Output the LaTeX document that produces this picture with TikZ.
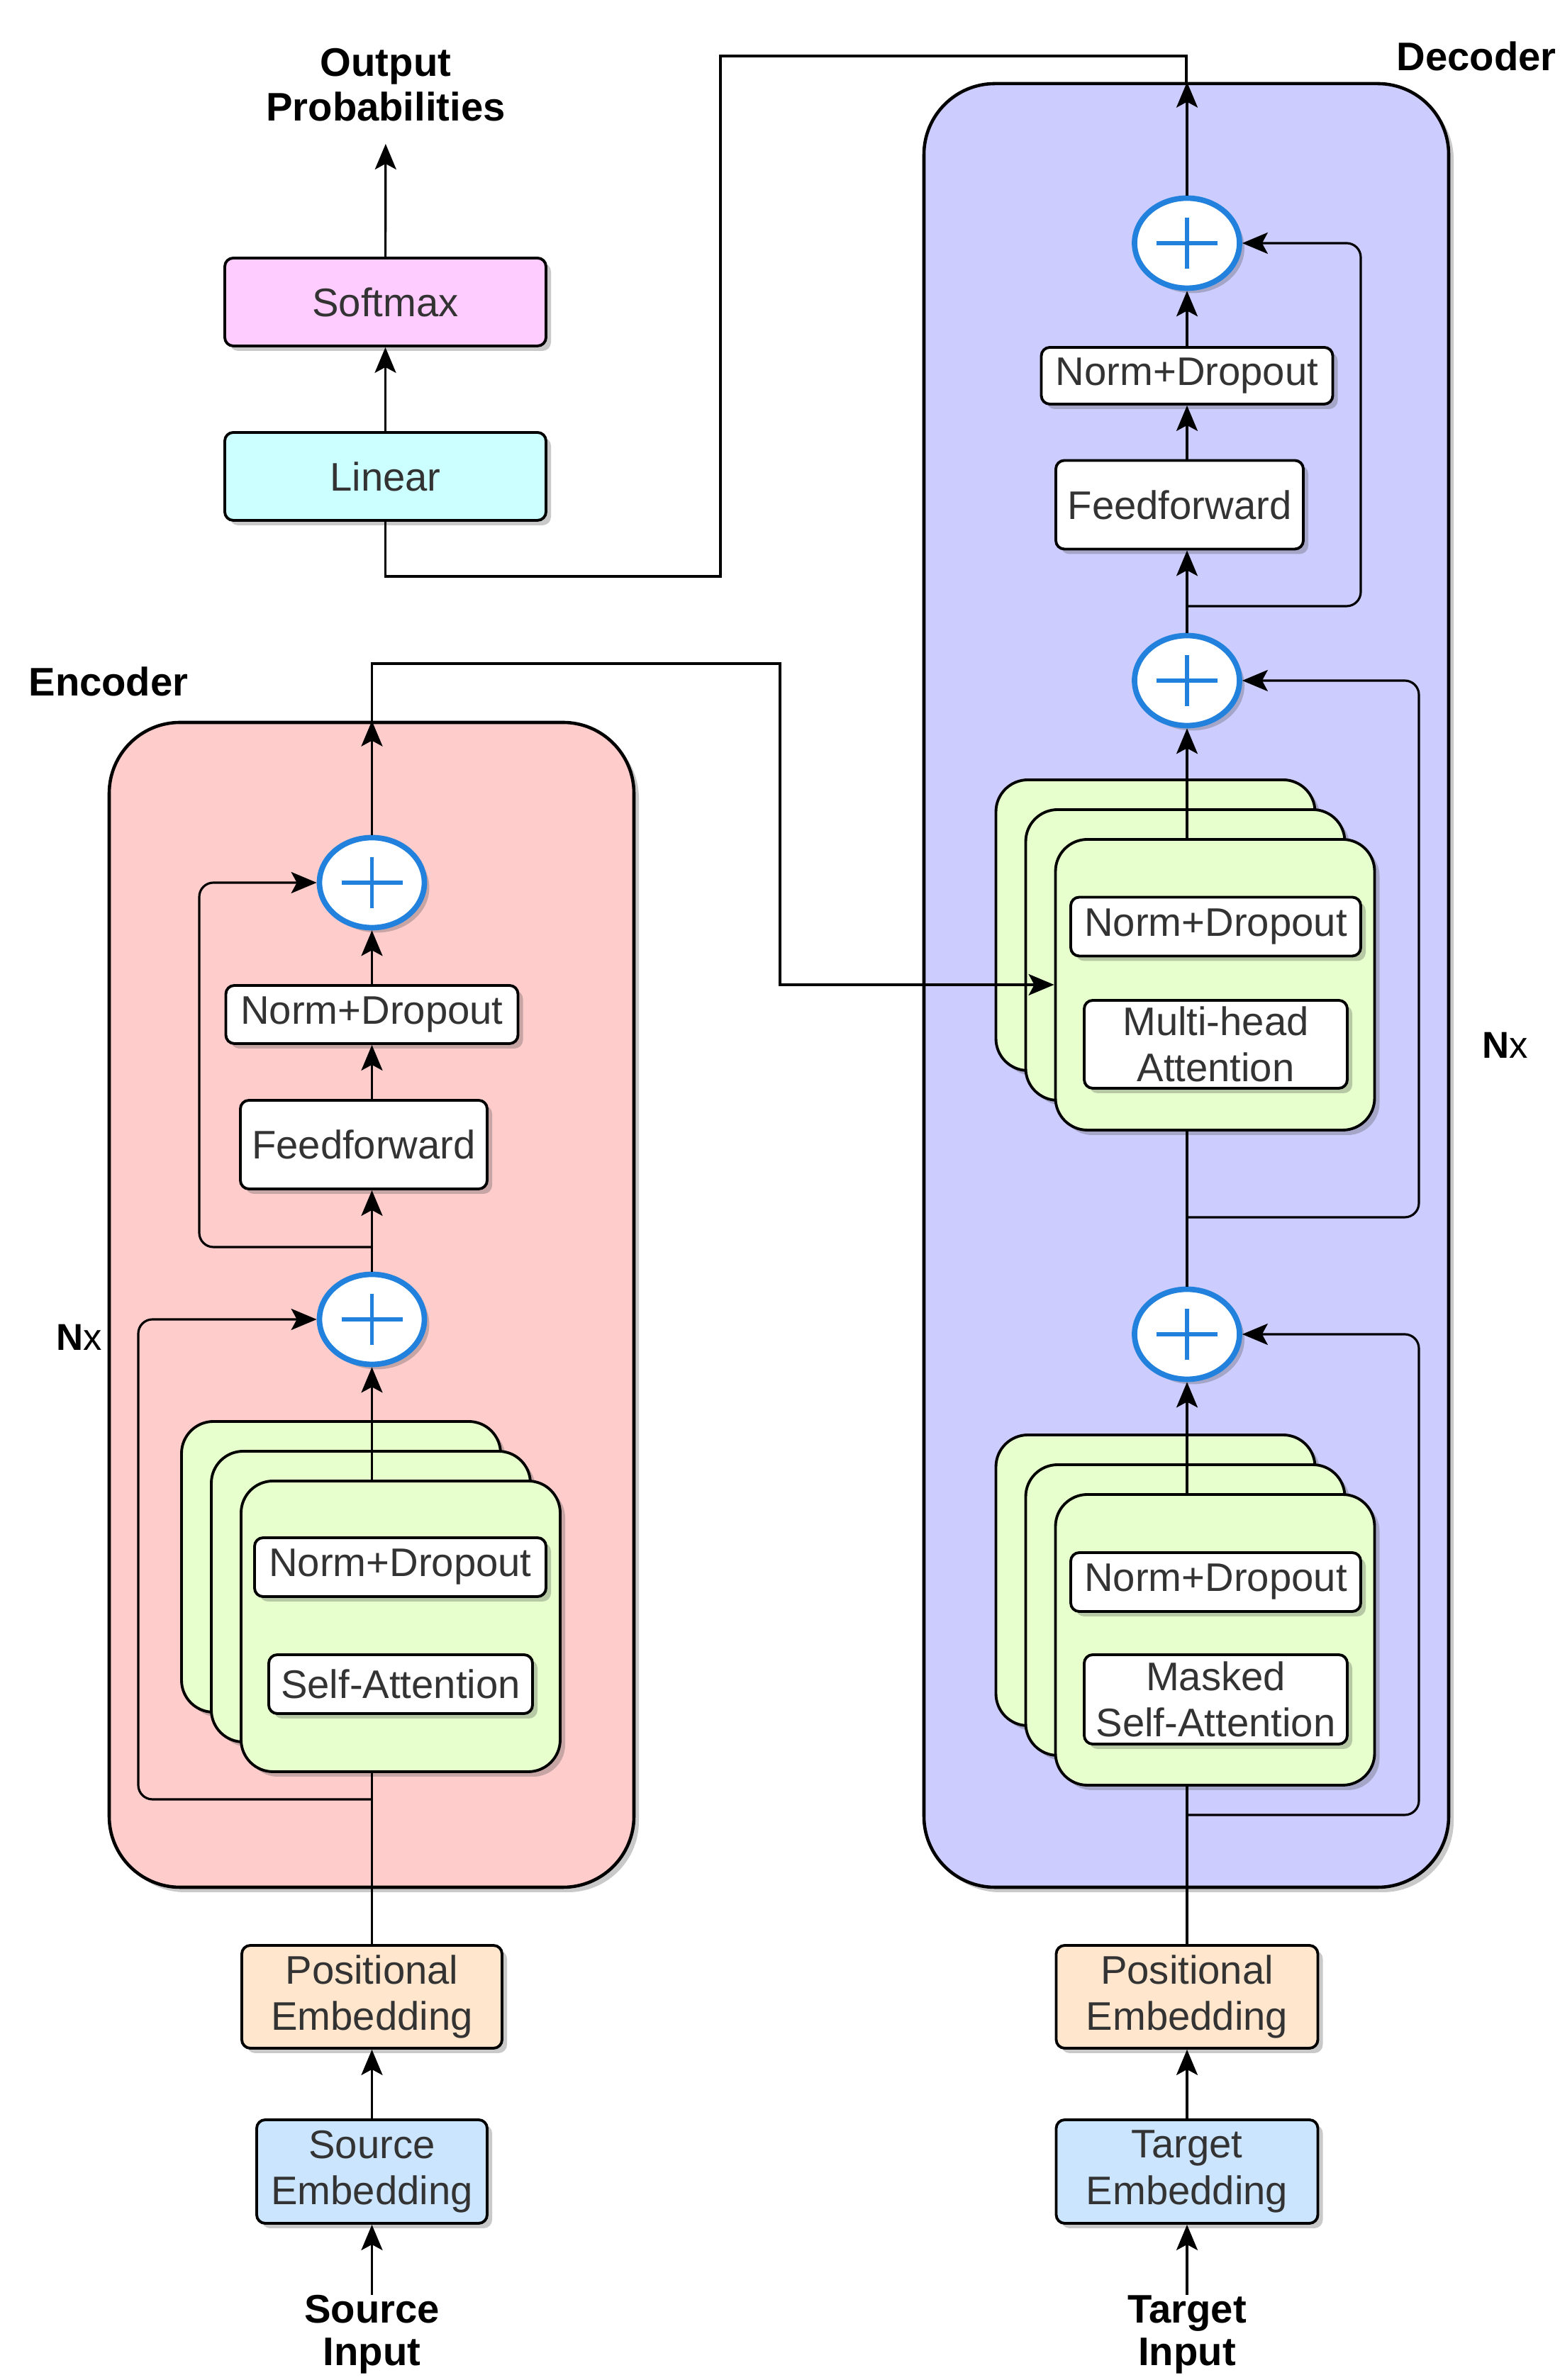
\documentclass[tikz,border=0pt]{standalone}
\usepackage{fontspec}
\setmainfont{Liberation Sans}
\usepackage{tikz}
\usetikzlibrary{arrows.meta,shapes.geometric,shadows,calc}

\definecolor{encfill}{HTML}{FFCCCC}
\definecolor{decfill}{HTML}{CCCCFF}
\definecolor{smfill}{HTML}{FFCCFF}
\definecolor{linfill}{HTML}{CCFFFF}
\definecolor{posfill}{HTML}{FFE6CC}
\definecolor{embfill}{HTML}{CCE5FF}
\definecolor{cardfill}{HTML}{E6FFCC}
\definecolor{plusblue}{HTML}{2281DC}

\tikzset{
  shade/.style={drop shadow={shadow xshift=0.07cm, shadow yshift=-0.07cm, opacity=0.3, fill=black!70}},
  box/.style={draw, line width=1.1pt, rounded corners=0.12cm, inner sep=0pt, align=center,
    text=black!80, font=\fontsize{16}{18.5}\selectfont, shade},
  inbox/.style={box, fill=white},
  card/.style={draw, line width=1.1pt, rounded corners=0.45cm, fill=cardfill,
    minimum width=4.5cm, minimum height=4.1cm, shade},
  frame/.style={draw, line width=1.3pt, rounded corners=1cm, shade},
  plus/.style={ellipse, draw=plusblue, line width=2.2pt, fill=white, inner sep=0pt,
    minimum width=1.48cm, minimum height=1.27cm, shade,
    path picture={
      \draw[plusblue, line width=1.6pt]
        ([xshift=-0.43cm]path picture bounding box.center) -- ([xshift=0.43cm]path picture bounding box.center)
        ([yshift=-0.36cm]path picture bounding box.center) -- ([yshift=0.36cm]path picture bounding box.center);
    }},
  title/.style={font=\fontsize{16}{18}\selectfont\bfseries, align=center, inner sep=0pt},
  nx/.style={font=\fontsize{15}{18}\selectfont, inner sep=0pt},
  conn/.style={line width=0.9pt},
  arr/.style={conn, -{Stealth[length=0.36cm, width=0.3cm, inset=0.08cm]}},
}

\begin{document}
\begin{tikzpicture}
  \useasboundingbox (0,0) rectangle (22,33.57);

  % Frames
  \node[frame, fill=decfill, minimum width=7.40cm, minimum height=25.44cm] (decbox) at (16.73,19.67) {};
  \node[frame, fill=encfill, minimum width=7.40cm, minimum height=16.43cm] (encbox) at (5.24,15.165) {};
  \node[title] (dectitle) at (20.82,32.78) {Decoder};
  \node[title] (enctitle) at (1.53,23.96) {Encoder};

  % Output head
  \node[title, anchor=south, inner ysep=0.31cm] (outprob) at (5.44,31.54) {Output\\Probabilities};
  \node[box, fill=smfill, minimum width=4.53cm, minimum height=1.24cm] (softmax) at (5.435,29.31) {Softmax};
  \node[box, fill=linfill, minimum width=4.53cm, minimum height=1.24cm] (linear) at (5.435,26.85) {Linear};

  % Encoder: attention stack
  \node[card] (sa3) at (4.81,11.47) {};
  \node[card] (sa2) at (5.23,11.05) {};
  \node[card] (sa1) at (5.65,10.63) {};
  \node[inbox, minimum width=4.11cm, minimum height=0.83cm] (sand) at (5.645,11.465) {Norm+Dropout};
  \node[inbox, minimum width=3.72cm, minimum height=0.83cm] (saatt) at (5.65,9.815) {Self-Attention};

  % Encoder: feedforward part
  \node[plus] (eplus1) at (5.245,14.96) {};
  \node[inbox, minimum width=3.48cm, minimum height=1.25cm] (effwd) at (5.13,17.425) {Feedforward};
  \node[inbox, minimum width=4.12cm, minimum height=0.82cm] (end) at (5.245,19.26) {Norm+Dropout};
  \node[plus] (eplus2) at (5.245,21.12) {};
  \node[nx] (encn) at (1.12,14.71) {\textbf{N}x};

  % Encoder inputs
  \node[box, fill=posfill, minimum width=3.67cm, minimum height=1.45cm] (srcpe) at (5.245,5.405) {Positional\\Embedding};
  \node[box, fill=embfill, minimum width=3.25cm, minimum height=1.46cm] (srcemb) at (5.245,2.94) {Source\\Embedding};
  \node[title, anchor=north, font=\fontsize{16}{17}\selectfont\bfseries] (srcin) at (5.245,1.2) {Source\\Input};

  % Decoder: masked attention stack
  \node[card] (ms3) at (16.295,11.28) {};
  \node[card] (ms2) at (16.715,10.86) {};
  \node[card] (ms1) at (17.135,10.44) {};
  \node[inbox, minimum width=4.09cm, minimum height=0.83cm] (msnd) at (17.145,11.255) {Norm+Dropout};
  \node[inbox, minimum width=3.71cm, minimum height=1.26cm] (msatt) at (17.145,9.60) {Masked\\Self-Attention};
  \node[plus] (dplus1) at (16.74,14.75) {};

  % Decoder: multi-head attention stack
  \node[card] (mh3) at (16.295,20.52) {};
  \node[card] (mh2) at (16.715,20.10) {};
  \node[card] (mh1) at (17.135,19.68) {};
  \node[inbox, minimum width=4.09cm, minimum height=0.83cm] (mhnd) at (17.145,20.50) {Norm+Dropout};
  \node[inbox, minimum width=3.71cm, minimum height=1.24cm] (mhatt) at (17.145,18.84) {Multi-head\\Attention};
  \node[plus] (dplus2) at (16.74,23.97) {};
  \node[nx] (decn) at (21.23,18.83) {\textbf{N}x};

  % Decoder: feedforward part
  \node[inbox, minimum width=3.49cm, minimum height=1.25cm] (dffwd) at (16.635,26.45) {Feedforward};
  \node[inbox, minimum width=4.11cm, minimum height=0.80cm] (dnd) at (16.74,28.27) {Norm+Dropout};
  \node[plus] (dplus3) at (16.74,30.14) {};

  % Decoder inputs
  \node[box, fill=posfill, minimum width=3.69cm, minimum height=1.45cm] (tgtpe) at (16.74,5.405) {Positional\\Embedding};
  \node[box, fill=embfill, minimum width=3.69cm, minimum height=1.46cm] (tgtemb) at (16.74,2.94) {Target\\Embedding};
  \node[title, anchor=north, font=\fontsize{16}{17}\selectfont\bfseries] (tgtin) at (16.74,1.2) {Target\\Input};

  % Branch points
  \coordinate (eskipa) at (5.245,8.19);
  \coordinate (eskipb) at (5.245,15.98);
  \coordinate (dskipa) at (16.74,7.97);
  \coordinate (dskipb) at (16.74,16.40);
  \coordinate (dskipc) at (16.74,25.02);
  \coordinate (xlink) at (11.0,24.21);
  \coordinate (linka) at (10.16,25.44);
  \coordinate (linkb) at (10.16,32.78);

  % Encoder flow
  \draw[arr] (srcin) -- (srcemb);
  \draw[arr] (srcemb) -- (srcpe);
  \draw[conn] (srcpe) -- (srcpe |- sa1.south);
  \draw[arr] (eplus1 |- sa1.north) -- (eplus1);
  \draw[arr] (eplus1) -- (eplus1 |- effwd.south);
  \draw[arr] (eplus1 |- effwd.north) -- (end);
  \draw[arr] (end) -- (eplus2);
  \draw[arr] (eplus2) -- (eplus2 |- encbox.north);
  \draw[arr, rounded corners=0.2cm] (eskipa) -- ++(-3.295,0) |- (eplus1);
  \draw[arr, rounded corners=0.2cm] (eskipb) -- ++(-2.435,0) |- (eplus2);

  % Encoder to decoder
  \draw[arr] (eplus2 |- encbox.north) |- (xlink) |- (mh1.west);

  % Decoder flow
  \draw[arr] (tgtin) -- (tgtemb);
  \draw[arr] (tgtemb) -- (tgtpe);
  \draw[conn] (tgtpe) -- (tgtpe |- ms1.south);
  \draw[arr] (dplus1 |- ms1.north) -- (dplus1);
  \draw[conn] (dplus1) -- (dplus1 |- mh1.south);
  \draw[arr] (dplus2 |- mh1.north) -- (dplus2);
  \draw[arr] (dplus2) -- (dplus2 |- dffwd.south);
  \draw[arr] (dplus2 |- dffwd.north) -- (dnd);
  \draw[arr] (dnd) -- (dplus3);
  \draw[arr] (dplus3) -- (dplus3 |- decbox.north);
  \draw[arr, rounded corners=0.2cm] (dskipa) -- ++(3.27,0) |- (dplus1);
  \draw[arr, rounded corners=0.2cm] (dskipb) -- ++(3.27,0) |- (dplus2);
  \draw[arr, rounded corners=0.2cm] (dskipc) -- ++(2.45,0) |- (dplus3);

  % Decoder to output head
  \draw[conn] (linear) |- (linka) -- (linkb) -| (decbox.north);
  \draw[arr] (linear) -- (softmax);
  \draw[arr] (softmax) -- (outprob);
\end{tikzpicture}
\end{document}
